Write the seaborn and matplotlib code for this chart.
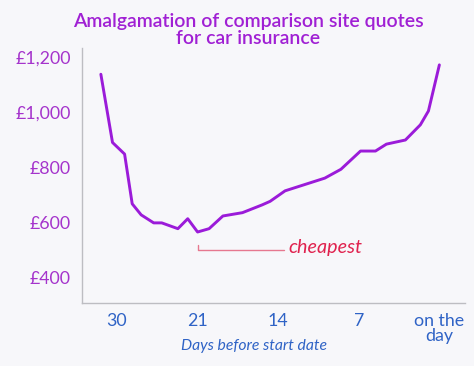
import matplotlib

matplotlib.use("Agg")
import matplotlib.pyplot as plt
import numpy as np
import pandas as pd
import seaborn as sns

# days before start date
days = [31.8, 30.5, 29.15, 28.3, 27.3, 25.9, 25.0, 23.2, 22.1, 21.0, 20.0, 18.8,
        17.1, 15.4, 14.7, 13.4, 9.95, 8.55, 6.85, 5.55, 4.6, 2.95, 1.65, 0.95, 0.0]
quotes = [1137, 890, 848, 668, 628, 599, 599, 578, 614, 566, 578, 624,
          636, 664, 677, 715, 761, 793, 859, 859, 884, 899, 954, 1004, 1171]
tick_days = [30, 21, 14, 7, 0]
tick_labels = ["30", "21", "14", "7", "on the\nday"]
y_ticks = [400, 600, 800, 1000, 1200]
cheapest_day = 21.0

BG = "#f7f7fa"
PURPLE = "#9b1bd9"
TICK_PURPLE = "#a534cc"
BLUE = "#2f63c6"
RED = "#e0224e"


def day_to_pos(d):
    # ticks are evenly spaced on the original, whatever the day gap
    anchors = [33] + tick_days
    pos = [-1 / 3] + list(range(len(tick_days)))
    return np.interp(-np.asarray(d, dtype=float), -np.asarray(anchors), pos)


df = pd.DataFrame({"pos": day_to_pos(days), "quote": quotes})

sns.set_style("white")
plt.rcParams["font.family"] = ["Lato", "DejaVu Sans"]

fig = plt.figure(figsize=(4.74, 3.66), dpi=100, facecolor=BG)
ax = fig.add_axes([82 / 474, 1 - 303 / 366, (465 - 82) / 474, (303 - 48) / 366])
ax.set_facecolor(BG)

sns.lineplot(data=df, x="pos", y="quote", ax=ax, color=PURPLE, linewidth=2.1)

ax.set_xlim(-0.434, 4.318)
ax.set_ylim(309, 1232)
ax.set_xticks(range(len(tick_days)))
ax.set_xticklabels(tick_labels, color=BLUE, fontsize=12.8, linespacing=0.95)
ax.set_yticks(y_ticks)
ax.set_yticklabels([f"£{v:,}" for v in y_ticks], color=TICK_PURPLE, fontsize=12.8)
ax.tick_params(axis="both", length=0, pad=7)
ax.tick_params(axis="y", pad=8)
ax.set_xlabel("")
ax.set_ylabel("")

for side in ["top", "right"]:
    ax.spines[side].set_visible(False)
for side in ["left", "bottom"]:
    ax.spines[side].set_color("#bdbdc2")
    ax.spines[side].set_linewidth(1.0)

# cheapest marker bracket
cx = float(day_to_pos(cheapest_day))
ax.plot([cx, cx, cx + 1.07], [520, 500, 500], color="#e6788f", linewidth=1.0)
ax.text(cx + 1.13, 511, "cheapest", color=RED, fontsize=14.2, style="italic",
        ha="left", va="center")

fig.text(248 / 474, 1 - 30 / 366, "Amalgamation of comparison site quotes\nfor car insurance",
         ha="center", va="center", color="#a020d4", fontsize=14, fontweight="semibold",
         linespacing=1.0)
fig.text(254 / 474, 1 - 346 / 366, "Days before start date", ha="center", va="center",
         color=BLUE, fontsize=11.3, style="italic")

fig.savefig("out.png", dpi=100, facecolor=BG)
